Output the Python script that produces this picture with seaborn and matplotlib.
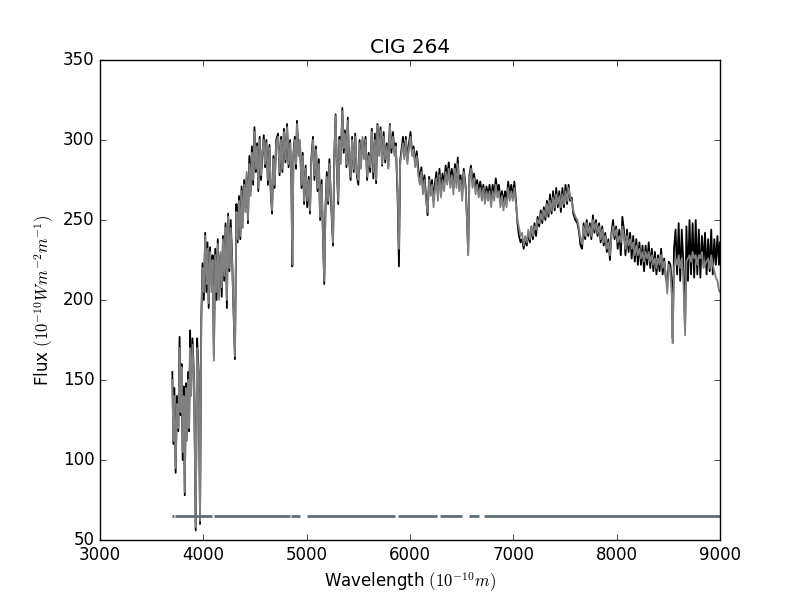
import matplotlib
matplotlib.use("Agg")
import matplotlib.pyplot as plt
import pandas as pd
import numpy as np
import seaborn as sns

wavelength = [
    3700, 3710, 3720, 3732, 3745, 3758, 3770, 3780, 3790, 3800, 3810, 3820, 3832, 3842, 3852, 3862,
    3872, 3882, 3895, 3910, 3926, 3940, 3955, 3968, 3980, 3992, 4005, 4018, 4030, 4040, 4052, 4065,
    4078, 4090, 4102, 4115, 4128, 4140, 4152, 4165, 4178, 4190, 4202, 4215, 4228, 4240, 4252, 4265,
    4278, 4290, 4306, 4320, 4332, 4345, 4358, 4370, 4382, 4395, 4408, 4420, 4432, 4445, 4458, 4470,
    4482, 4495, 4508, 4520, 4532, 4545, 4558, 4570, 4585, 4597, 4610, 4625, 4640, 4652, 4665, 4678,
    4690, 4705, 4723, 4738, 4752, 4765, 4780, 4795, 4810, 4825, 4840, 4852, 4861, 4872, 4885, 4897,
    4906, 4920, 4935, 4950, 4962, 4975, 4990, 5005, 5020, 5032, 5045, 5061, 5075, 5090, 5105, 5118,
    5130, 5145, 5158, 5170, 5182, 5195, 5208, 5220, 5235, 5255, 5268, 5280, 5292, 5305, 5318, 5330,
    5345, 5358, 5370, 5385, 5398, 5410, 5425, 5440, 5455, 5470, 5485, 5500, 5512, 5525, 5540, 5555,
    5570, 5585, 5600, 5615, 5630, 5645, 5660, 5672, 5685, 5700, 5715, 5730, 5745, 5760, 5775, 5790,
    5805, 5820, 5835, 5850, 5862, 5880, 5893, 5905, 5918, 5932, 5945, 5960, 5975, 5990, 6005, 6020,
    6035, 6050, 6065, 6080, 6095, 6110, 6125, 6140, 6155, 6170, 6185, 6200, 6213, 6228, 6240, 6255,
    6270, 6285, 6300, 6315, 6330, 6345, 6360, 6375, 6390, 6405, 6420, 6435, 6450, 6462, 6475, 6490,
    6505, 6520, 6540, 6555, 6563, 6575, 6590, 6605, 6620, 6635, 6650, 6665, 6680, 6695, 6710, 6725,
    6740, 6755, 6770, 6785, 6800, 6815, 6830, 6845, 6860, 6875, 6890, 6905, 6920, 6935, 6950, 6965,
    6980, 6995, 7010, 7025, 7040, 7055, 7070, 7085, 7100, 7115, 7130, 7145, 7160, 7175, 7190, 7205,
    7220, 7235, 7250, 7265, 7280, 7295, 7310, 7325, 7340, 7355, 7370, 7385, 7400, 7415, 7430, 7445,
    7460, 7475, 7490, 7505, 7520, 7535, 7550, 7565, 7580, 7600, 7620, 7635, 7650, 7665, 7680, 7695,
    7710, 7725, 7740, 7755, 7770, 7785, 7800, 7815, 7830, 7845, 7860, 7875, 7890, 7905, 7920, 7935,
    7950, 7965, 7980, 7995, 8010, 8025, 8040, 8055, 8070, 8085, 8100, 8115, 8130, 8145, 8160, 8175,
    8190, 8205, 8220, 8235, 8250, 8265, 8280, 8295, 8310, 8325, 8340, 8355, 8370, 8385, 8400, 8415,
    8430, 8445, 8460, 8475, 8490, 8505, 8520, 8535, 8542, 8555, 8570, 8585, 8600, 8615, 8630, 8645,
    8662, 8675, 8690, 8705, 8720, 8735, 8750, 8765, 8780, 8795, 8810, 8825, 8840, 8855, 8870, 8885,
    8900, 8915, 8930, 8945, 8960, 8975, 8990, 9000,
]

flux_model = [
    150, 112, 140, 95, 135, 120, 170, 130, 158, 105, 140, 80, 145, 112, 150, 120,
    170, 140, 172, 150, 58, 170, 150, 62, 185, 220, 205, 240, 210, 232, 198, 230,
    205, 225, 162, 228, 205, 235, 200, 230, 208, 238, 215, 245, 200, 252, 220, 245,
    225, 200, 165, 255, 238, 262, 240, 268, 245, 272, 255, 280, 250, 285, 265, 292,
    275, 305, 282, 296, 270, 300, 278, 292, 300, 285, 298, 275, 295, 270, 256, 288,
    272, 298, 302, 280, 300, 282, 305, 288, 308, 285, 298, 275, 222, 290, 300, 285,
    310, 290, 300, 272, 290, 262, 282, 262, 275, 256, 285, 300, 278, 294, 270, 285,
    252, 272, 240, 212, 255, 277, 262, 285, 265, 236, 290, 315, 285, 262, 300, 285,
    318, 295, 304, 285, 312, 290, 277, 300, 282, 302, 280, 275, 298, 282, 302, 288,
    300, 277, 290, 283, 305, 280, 300, 275, 309, 290, 306, 285, 302, 288, 296, 282,
    309, 295, 302, 290, 296, 270, 232, 285, 292, 298, 288, 300, 285, 295, 302, 290,
    294, 283, 290, 278, 272, 280, 266, 275, 262, 255, 275, 265, 272, 258, 268, 276,
    262, 278, 264, 275, 268, 280, 272, 282, 270, 278, 266, 282, 270, 285, 268, 275,
    262, 280, 268, 245, 228, 275, 282, 270, 276, 266, 272, 264, 270, 262, 270, 260,
    268, 262, 268, 258, 268, 262, 272, 264, 268, 258, 265, 256, 264, 258, 270, 262,
    268, 262, 270, 260, 250, 245, 240, 242, 234, 240, 236, 244, 238, 246, 240, 246,
    244, 250, 248, 254, 250, 256, 252, 260, 254, 262, 256, 264, 258, 266, 260, 265,
    258, 266, 260, 268, 262, 270, 264, 262, 256, 252, 250, 245, 238, 235, 246, 240,
    248, 242, 246, 240, 250, 244, 248, 242, 246, 238, 244, 236, 240, 232, 236, 228,
    240, 246, 240, 244, 236, 240, 236, 246, 240, 232, 240, 234, 238, 232, 236, 228,
    234, 228, 232, 226, 230, 224, 230, 226, 230, 224, 228, 222, 226, 220, 226, 222,
    228, 220, 224, 216, 204, 222, 218, 200, 173, 220, 226, 222, 228, 220, 226, 214,
    178, 224, 226, 228, 224, 230, 226, 228, 222, 228, 226, 230, 220, 222, 224, 226,
    220, 228, 222, 218, 214, 212, 206, 205,
]

flux_obs = [
    155, 110, 145, 92, 140, 118, 177, 128, 160, 100, 146, 78, 148, 115, 155, 118,
    181, 145, 176, 152, 56, 176, 155, 60, 187, 223, 200, 242, 205, 236, 195, 233,
    210, 228, 165, 232, 200, 238, 205, 228, 202, 240, 212, 248, 195, 254, 218, 250,
    228, 198, 163, 260, 236, 265, 238, 271, 250, 275, 258, 278, 248, 290, 268, 296,
    272, 308, 280, 298, 268, 302, 275, 290, 303, 283, 300, 272, 297, 268, 254, 290,
    270, 300, 304, 278, 302, 280, 307, 286, 310, 283, 300, 272, 221, 292, 302, 282,
    312, 292, 298, 270, 292, 260, 284, 258, 277, 254, 288, 302, 275, 296, 268, 288,
    250, 275, 238, 210, 258, 280, 260, 288, 262, 234, 293, 316, 283, 260, 302, 288,
    320, 292, 306, 283, 314, 288, 275, 302, 280, 304, 278, 272, 300, 285, 300, 290,
    302, 275, 292, 280, 307, 276, 304, 273, 310, 292, 308, 284, 305, 286, 298, 283,
    310, 292, 305, 292, 298, 265, 221, 287, 294, 302, 290, 302, 287, 298, 305, 292,
    296, 285, 293, 282, 275, 283, 270, 278, 265, 253, 277, 268, 275, 262, 272, 280,
    266, 282, 268, 279, 272, 284, 276, 286, 274, 282, 270, 285, 274, 289, 272, 278,
    266, 282, 270, 245, 230, 278, 284, 274, 279, 270, 275, 268, 274, 266, 272, 262,
    271, 265, 272, 262, 272, 265, 276, 268, 272, 262, 268, 260, 268, 262, 274, 266,
    272, 264, 274, 262, 248, 240, 236, 238, 232, 238, 234, 242, 236, 246, 238, 248,
    240, 252, 246, 256, 248, 258, 250, 262, 252, 266, 254, 268, 256, 270, 258, 268,
    255, 270, 258, 272, 260, 272, 262, 264, 254, 250, 248, 243, 234, 232, 248, 238,
    250, 240, 248, 238, 253, 242, 250, 240, 248, 236, 246, 234, 242, 230, 238, 225,
    242, 250, 238, 246, 232, 244, 228, 252, 244, 228, 244, 230, 242, 226, 240, 224,
    238, 222, 236, 222, 234, 218, 234, 222, 236, 220, 232, 218, 230, 216, 228, 218,
    232, 216, 226, 214, 210, 224, 222, 210, 176, 232, 244, 216, 248, 212, 244, 224,
    182, 246, 212, 250, 216, 248, 214, 250, 216, 244, 214, 240, 222, 242, 216, 238,
    218, 244, 216, 238, 222, 240, 222, 236,
]

# good-pixel mask shown at the bottom (start, end of each unmasked stretch)
mask_start = [3700, 3729, 4099, 4853, 5000, 5887, 6291, 6572, 6712]
mask_end = [3712, 4082, 4836, 4938, 5856, 6257, 6507, 6668, 9000]
mask_level = 65

plt.style.use("classic")
plt.rcParams["figure.facecolor"] = "white"

df = pd.DataFrame({"wavelength": wavelength, "obs": flux_obs, "model": flux_model})

fig, ax = plt.subplots(figsize=(8, 6), dpi=100)
sns.lineplot(data=df, x="wavelength", y="obs", color="black", lw=1.3, ax=ax)
sns.lineplot(data=df, x="wavelength", y="model", color="gray", lw=1.3, ax=ax)
ax.hlines([mask_level] * len(mask_start), mask_start, mask_end, color="#5f6e76", lw=2)

ax.set_xlim(3000, 9000)
ax.set_ylim(50, 350)
ax.set_title("CIG 264")
ax.set_xlabel(r"Wavelength $(10^{-10}m)$")
ax.set_ylabel(r"Flux $(10^{-10}Wm^{-2}m^{-1})$")

plt.savefig("out.png", dpi=100)
